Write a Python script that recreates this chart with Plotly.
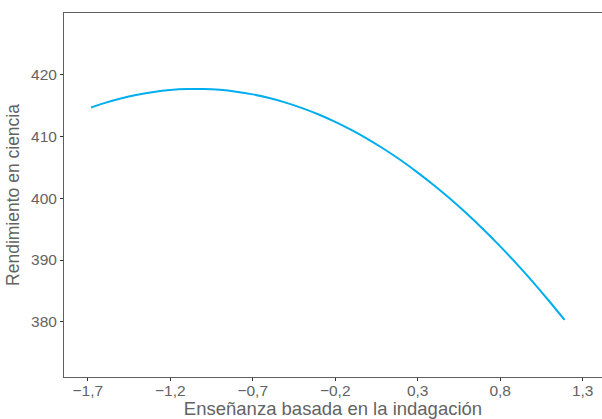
import plotly.graph_objects as go

indagacion = [-1.68, -1.6, -1.5, -1.4, -1.3, -1.2, -1.1, -1.0, -0.9, -0.8, -0.7, -0.6,
              -0.5, -0.4, -0.3, -0.2, -0.1, 0.0, 0.1, 0.2, 0.3, 0.4, 0.5, 0.6, 0.7,
              0.8, 0.9, 1.0, 1.1, 1.19]
rendimiento = [414.73, 415.44, 416.20, 416.80, 417.26, 417.57, 417.73, 417.73, 417.59,
               417.30, 416.86, 416.26, 415.52, 414.63, 413.59, 412.39, 411.05, 409.56,
               407.92, 406.13, 404.18, 402.09, 399.85, 397.46, 394.91, 392.22, 389.38,
               386.39, 383.24, 380.29]

x_tickvals = [-1.7, -1.2, -0.7, -0.2, 0.3, 0.8, 1.3]
x_ticktext = ["\u22121,7", "\u22121,2", "\u22120,7", "\u22120,2", "0,3", "0,8", "1,3"]
y_tickvals = [380, 390, 400, 410, 420]
y_ticktext = ["380", "390", "400", "410", "420"]

fig = go.Figure()
fig.add_trace(go.Scatter(x=indagacion, y=rendimiento, mode="lines",
                         line=dict(color="#00AEEF", width=2, shape="spline"),
                         hoverinfo="skip", showlegend=False))

axis_color = "#5f5f5f"
font_color = "#636363"
fig.update_layout(
    width=602, height=419,
    margin=dict(l=64, r=0, t=13, b=42),
    paper_bgcolor="white", plot_bgcolor="white",
    font=dict(family="Liberation Sans, Arial, sans-serif", size=16, color=font_color),
    xaxis=dict(range=[-1.844, 1.417], tickvals=x_tickvals, ticktext=x_ticktext,
               showgrid=False, zeroline=False, showline=True, linecolor=axis_color,
               linewidth=1, mirror=True, ticks="outside", ticklen=3, tickcolor="#333333",
               tickfont=dict(size=15.5, color=font_color), automargin=False,
               ticklabelstandoff=-4,
               title=dict(text="Enseñanza basada en la indagación", standoff=2,
                          font=dict(size=18.5, color=font_color))),
    yaxis=dict(range=[371.04, 430.05], tickvals=y_tickvals, ticktext=y_ticktext,
               showgrid=False, zeroline=False, showline=True, linecolor=axis_color,
               linewidth=1, ticks="outside", ticklen=3, tickcolor="#333333",
               tickfont=dict(size=15.5, color=font_color), automargin=False,
               title=dict(text="Rendimiento en ciencia", standoff=6,
                          font=dict(size=17.5, color=font_color))),
)

fig.write_html("out.html")
